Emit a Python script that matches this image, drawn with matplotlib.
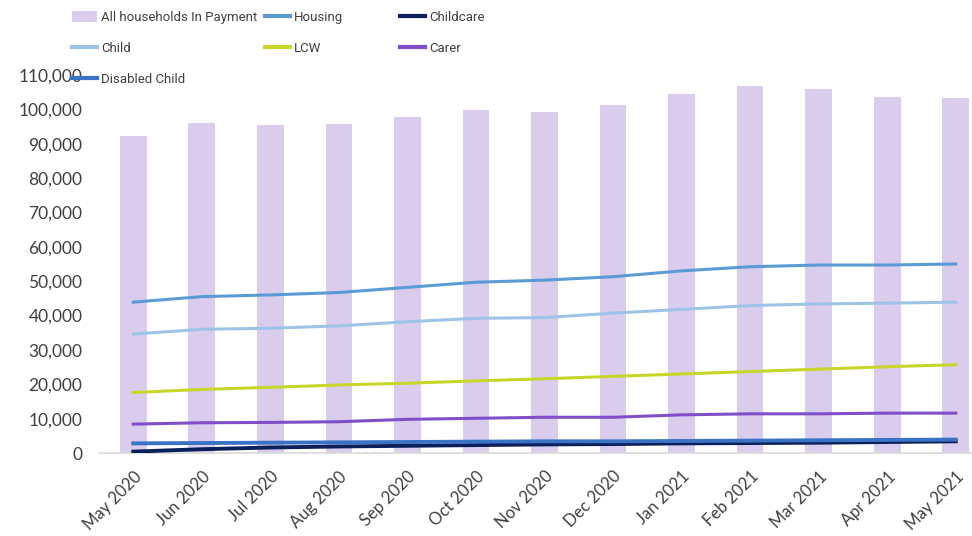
import matplotlib
matplotlib.use("Agg")
import matplotlib.pyplot as plt
from matplotlib.patches import Patch
from matplotlib.lines import Line2D
from matplotlib.ticker import FuncFormatter

# =========================
# Data
# =========================
months = ["May 2020", "Jun 2020", "Jul 2020", "Aug 2020", "Sep 2020", "Oct 2020",
          "Nov 2020", "Dec 2020", "Jan 2021", "Feb 2021", "Mar 2021", "Apr 2021",
          "May 2021"]

all_households = [92300, 96100, 95400, 95800, 97900, 99800, 99300, 101300,
                  104400, 106900, 105800, 103700, 103200]
housing = [43900, 45500, 46000, 46700, 48200, 49700, 50300, 51300, 53000,
           54200, 54700, 54700, 55000]
child = [34600, 36000, 36300, 37000, 38200, 39200, 39400, 40700, 41800,
         42900, 43400, 43600, 43900]
lcw = [17600, 18500, 19100, 19800, 20300, 21000, 21600, 22300, 23000,
       23700, 24400, 25100, 25700]
carer = [8400, 8800, 8900, 9100, 9800, 10100, 10400, 10400, 11100, 11400,
         11400, 11600, 11600]
childcare = [400, 1100, 1600, 1900, 2100, 2300, 2500, 2600, 2800, 2900,
             3000, 3200, 3400]
disabled_child = [2800, 2900, 3000, 3100, 3200, 3300, 3400, 3400, 3500,
                  3600, 3700, 3800, 3900]

# =========================
# Styling
# =========================
BAR_COLOR = "#D9CCEC"
HOUSING_COLOR = "#5B9BD5"
CHILD_COLOR = "#9DC3E6"
LCW_COLOR = "#C8D62A"
CARER_COLOR = "#7F4FC9"
CHILDCARE_COLOR = "#0B1F5B"
DISABLED_COLOR = "#3A72C4"
TEXT_COLOR = "#404040"

TICK_FONT = "Lato"
LEGEND_FONT = "Roboto"

fig = plt.figure(figsize=(9.72, 5.36), dpi=100)
ax = fig.add_axes([99 / 972, 1 - 453 / 536, 891 / 972, 378 / 536])

x = list(range(len(months)))

# =========================
# Marks
# =========================
ax.bar(x, all_households, width=0.39, color=BAR_COLOR, zorder=1)

lw = 2.2
ax.plot(x, housing, color=HOUSING_COLOR, lw=lw, zorder=3)
ax.plot(x, child, color=CHILD_COLOR, lw=lw, zorder=3)
ax.plot(x, lcw, color=LCW_COLOR, lw=lw, zorder=3)
ax.plot(x, carer, color=CARER_COLOR, lw=lw, zorder=3)
ax.plot(x, childcare, color=CHILDCARE_COLOR, lw=2.8, zorder=3)
ax.plot(x, disabled_child, color=DISABLED_COLOR, lw=2.8, zorder=4)

# =========================
# Axes
# =========================
ax.set_xlim(-0.5, len(months) - 0.5)
ax.set_ylim(0, 110000)
ax.set_yticks(range(0, 110001, 10000))
ax.yaxis.set_major_formatter(FuncFormatter(lambda v, p: f"{int(v):,}"))

ax.set_xticks(x)
ax.set_xticklabels(months, rotation=45, ha="right", rotation_mode="anchor")

for side in ["top", "right", "left"]:
    ax.spines[side].set_visible(False)
ax.spines["bottom"].set_color("#D9D9D9")
ax.spines["bottom"].set_linewidth(1.2)

ax.tick_params(axis="y", length=0, pad=12, labelsize=12.5, labelcolor=TEXT_COLOR)
ax.tick_params(axis="x", length=0, pad=11, labelsize=12, labelcolor=TEXT_COLOR)
for lab in ax.get_xticklabels() + ax.get_yticklabels():
    lab.set_family(TICK_FONT)

# =========================
# Legend (three columns laid out row-wise like Excel)
# =========================
columns = [
    (72, [Patch(facecolor=BAR_COLOR, edgecolor="none"),
          Line2D([], [], color=CHILD_COLOR, lw=3),
          Line2D([], [], color=DISABLED_COLOR, lw=3)],
     ["All households In Payment", "Child", "Disabled Child"]),
    (265, [Line2D([], [], color=HOUSING_COLOR, lw=3),
           Line2D([], [], color=LCW_COLOR, lw=3)],
     ["Housing", "LCW"]),
    (400, [Line2D([], [], color=CHILDCARE_COLOR, lw=3),
           Line2D([], [], color=CARER_COLOR, lw=3)],
     ["Childcare", "Carer"]),
]

for left_px, handles, labels in columns:
    leg = fig.legend(handles, labels, loc="upper left",
                     bbox_to_anchor=(left_px / 972, 1 - 11 / 536),
                     frameon=False, borderpad=0, borderaxespad=0,
                     handlelength=1.9, handleheight=0.95, handletextpad=0.3,
                     labelspacing=1.35,
                     prop={"family": LEGEND_FONT, "size": 9.5})
    for t in leg.get_texts():
        t.set_color(TEXT_COLOR)

fig.savefig("out.png", dpi=100)
